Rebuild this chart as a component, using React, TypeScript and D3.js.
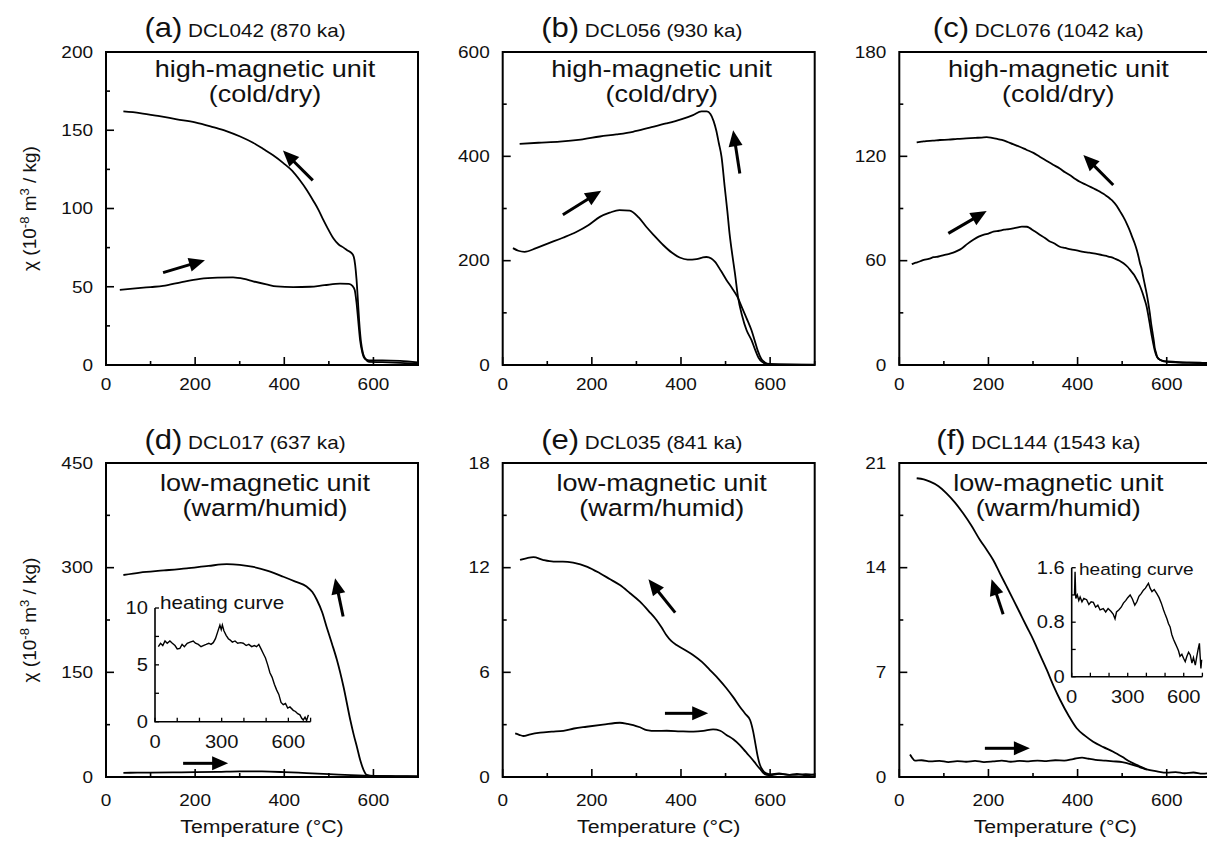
import React from "react";
import * as d3 from "d3";

// thermomagnetic curves, chi vs temperature: [T (°C), chi]
const aHeat: [number, number][] = [[31,48],[60,48.8],[100,49.8],[128,50.5],[170,53],[211,55],[250,55.8],[285,56],[310,55],[330,53.5],[360,51.5],[383,50.2],[420,49.8],[458,50],[490,51],[525,52],[545,51.8],[553,50.5],[558,48],[562,40],[566,28],[570,16],[575,8],[581,4],[590,3],[620,3],[660,2.6],[700,1.6]];
const aCool: [number, number][] = [[39,162],[76,161],[120,159],[159,157],[200,155],[240,152],[270,149.5],[301,146],[330,142],[353,138],[375,134],[398,129],[418,124],[435,118],[450,112],[465,105],[477,99],[487,93],[498,87],[510,81],[522,77],[533,75],[543,73],[551,71.5],[556,69],[559,64],[562,55],[565,42],[568,28],[572,15],[577,7],[583,3.5],[590,2],[620,1.8],[660,1.4],[700,0.8]];

const bHeat: [number, number][] = [[23,224],[35,219],[49,217],[75,224],[105,234],[135,244],[165,255],[192,268],[218,284],[240,292],[262,297],[285,296],[305,283],[322,265],[340,248],[360,230],[380,215],[397,206],[415,202],[435,203],[448,206],[457,207],[468,204],[476,198],[490,180],[502,163],[514,148],[527,130],[537,110],[547,90],[558,67],[565,48],[572,28],[580,12],[588,5],[598,2],[620,1],[700,0.5]];
const bCool: [number, number][] = [[38,424],[80,426],[128,428],[175,432],[218,438],[255,442],[292,447],[330,455],[367,463],[400,471],[427,479],[446,486],[458,486],[466,481],[473,468],[479,450],[485,425],[491,399],[498,342],[504,295],[509,252],[515,212],[521,176],[528,130],[537,95],[547,67],[558,48],[566,30],[574,14],[582,6],[590,2.5],[605,1],[700,0.3]];

const cHeat: [number, number][] = [[28,58],[34,58.6],[40,59],[48,59.8],[55,60.5],[66,61],[77,62],[88,62.4],[100,63.2],[110,63.8],[121,64.6],[130,65.6],[140,67],[152,69.5],[166,72],[178,73.8],[190,75],[200,75.6],[211,76.7],[224,77.2],[235,77.8],[246,78.1],[256,78.6],[266,79.2],[275,79.6],[286,79.5],[293,78.7],[300,77.5],[308,76.2],[316,74.8],[326,73.2],[335,71.5],[347,70],[360,68],[372,67.3],[385,66.5],[398,65.9],[413,65],[426,64.6],[440,64],[452,63.4],[465,62.7],[475,62],[485,61],[494,60],[503,58.5],[512,56.5],[520,54],[527,51.8],[533,49],[539,46],[545,42],[550,38],[555,33.5],[559,28],[563,22],[567,16],[570,12],[573,8.5],[576,6],[580,4],[585,3],[595,2.2],[620,1.8],[650,1.5],[675,1.3],[700,1.2]];
const cCool: [number, number][] = [[39,128],[50,128.4],[60,128.8],[75,129],[91,129.4],[110,129.6],[130,130],[150,130.3],[170,130.6],[185,130.8],[196,131],[208,130.6],[220,130],[230,129.4],[241,128.5],[255,127],[270,125.5],[285,123.8],[301,122],[315,119.8],[330,117.5],[345,115.2],[360,113],[372,110.8],[385,108.8],[395,107],[405,105.4],[418,103.8],[430,102.3],[440,101],[450,99.7],[458,98.5],[466,97],[473,95.6],[480,94],[488,91.5],[495,88.5],[503,85],[510,81.5],[516,78],[522,74],[528,70],[533,66],[537,62],[540,58.5],[544,55],[547,51],[551,46],[555,41],[559,35],[562,30],[565,24],[568,19],[571,14],[573,10],[576,7],[578,5],[582,3.5],[588,2.6],[600,1.8],[625,1.4],[650,1.2],[675,1.1],[700,1]];

const dHeat: [number, number][] = [[39,6],[70,6.2],[100,6.4],[150,6.6],[200,7],[250,7.4],[300,8.2],[350,8],[400,7],[450,5.6],[500,4.2],[550,2.6],[600,1.4],[650,1],[700,0.8]];
const dCool: [number, number][] = [[39,289.5],[76,293],[130,296],[181,299],[230,302.5],[271,305],[300,304],[331,301],[365,295],[398,287],[425,280],[450,273],[463,265],[473,254],[485,236],[495,215],[507,191],[518,168],[533,129],[548,82],[556,60],[563,43],[570,25],[578,10],[585,3],[600,1.5],[650,1.2],[700,1]];
// inset of (d): heating curve only
const dInsetHeat: [number, number][] = [[15,6.6],[25,6.9],[35,6.7],[45,7.1],[55,6.9],[67,7.1],[78,6.9],[90,6.7],[100,6.4],[112,6.45],[122,6.8],[132,6.6],[145,6.9],[158,7.0],[172,7.1],[182,6.9],[195,6.8],[207,6.6],[217,6.7],[230,6.8],[242,6.9],[252,6.8],[262,6.95],[272,7.3],[282,7.9],[292,8.5],[298,8.1],[303,8.5],[310,8.0],[320,7.6],[330,7.3],[337,7.2],[348,7.0],[360,7.1],[372,6.9],[385,6.95],[397,6.9],[410,6.7],[422,6.8],[435,6.6],[447,6.7],[457,6.6],[467,6.8],[477,6.4],[487,6.0],[497,5.6],[507,5.0],[517,4.3],[527,3.9],[537,3.3],[547,2.8],[557,2.4],[567,1.7],[577,1.5],[587,1.6],[597,1.2],[607,1.3],[622,1.0],[632,0.9],[642,0.7],[652,0.6],[660,0.3],[667,0.15],[675,0.4],[682,0.1],[690,0.6]];

const eHeat: [number, number][] = [[28,2.5],[37,2.42],[46,2.35],[62,2.45],[84,2.54],[110,2.6],[136,2.65],[160,2.78],[188,2.88],[225,3.0],[263,3.11],[280,3.05],[293,2.98],[308,2.85],[323,2.69],[345,2.64],[368,2.65],[398,2.62],[428,2.6],[450,2.64],[472,2.73],[488,2.65],[502,2.41],[518,2.15],[532,1.83],[545,1.45],[555,1.16],[565,0.85],[573,0.59],[580,0.38],[584,0.25],[592,0.12],[600,0.1],[620,0.18],[650,0.12],[680,0.16],[700,0.12]];
const eCool: [number, number][] = [[39,12.44],[55,12.55],[69,12.6],[90,12.45],[114,12.35],[135,12.35],[158,12.29],[190,12.05],[218,11.68],[240,11.35],[263,11.0],[285,10.55],[308,10.05],[328,9.5],[345,9.0],[357,8.55],[367,8.14],[378,7.8],[390,7.57],[408,7.3],[427,7.0],[447,6.6],[465,6.13],[485,5.6],[502,5.09],[518,4.55],[532,4.03],[545,3.6],[555,3.27],[562,2.6],[567,1.9],[572,1.2],[577,0.7],[583,0.4],[590,0.22],[600,0.15],[620,0.2],[640,0.12],[660,0.18],[680,0.1],[700,0.15]];

const fHeat: [number, number][] = [[24,1.5],[28,1.32],[35,1.09],[50,1.12],[70,1.05],[90,1.08],[110,1.0],[130,1.06],[150,1.02],[170,1.08],[190,1.0],[210,1.04],[230,1.1],[250,1.02],[270,1.08],[290,1.05],[310,1.1],[330,1.06],[350,1.12],[370,1.1],[390,1.2],[410,1.3],[425,1.22],[440,1.15],[460,1.1],[480,1.05],[500,1.0],[520,0.85],[540,0.65],[555,0.5]];
const fCool: [number, number][] = [[39,19.98],[55,19.9],[69,19.75],[88,19.45],[106,18.97],[125,18.35],[144,17.6],[162,16.8],[181,15.85],[196,15.2],[211,14.5],[226,13.6],[241,12.73],[256,11.85],[271,10.95],[286,10.05],[301,9.16],[316,8.15],[331,7.16],[346,6.1],[361,5.15],[380,4.1],[398,3.26],[417,2.75],[435,2.36],[458,2.0],[480,1.69],[500,1.35],[518,1.02],[537,0.75],[555,0.51],[578,0.38],[600,0.29],[620,0.32],[640,0.25],[660,0.3],[680,0.22],[700,0.28]];
// inset of (f): heating curve only
const fInsetHeat: [number, number][] = [[15,1.2],[18,1.54],[22,1.15],[30,1.2],[38,1.12],[45,1.17],[55,1.1],[65,1.15],[80,1.13],[92,1.06],[104,1.1],[116,1.09],[128,1.02],[140,1.05],[152,0.98],[169,1.0],[182,0.95],[195,1.0],[210,0.96],[222,0.92],[232,0.85],[240,0.95],[252,0.98],[265,1.02],[277,1.08],[290,1.12],[300,1.16],[313,1.2],[325,1.14],[338,1.05],[349,1.1],[360,1.18],[372,1.22],[384,1.27],[395,1.3],[404,1.34],[411,1.37],[420,1.3],[430,1.25],[442,1.28],[456,1.22],[468,1.16],[480,1.08],[492,0.98],[500,0.92],[510,0.85],[518,0.78],[527,0.73],[536,0.62],[545,0.55],[553,0.5],[563,0.44],[572,0.38],[580,0.3],[590,0.33],[599,0.27],[608,0.22],[617,0.3],[626,0.36],[635,0.32],[644,0.2],[652,0.28],[662,0.17],[670,0.3],[677,0.4],[684,0.49],[688,0.3],[692,0.12],[696,0.25]];

// arrows: [T tail, chi tail, T head, chi head]
const aArrows = [[464,118,397,137],[128,59,222,67]];
const bArrows = [[532,367,517,450],[135,288,221,334]];
const cArrows = [[480,103.5,413,120.8],[110,75.7,196,88.5]];
const dArrows = [[532,230,514,285],[173,19.6,274,19.6]];
const eArrows = [[387,9.42,327,11.33],[364,3.65,461,3.65]];
const fArrows = [[233,10.88,207,13.22],[192,1.92,293,1.92]];

const panels = [
  { col: 0, row: 0, letter: "(a)", sample: "DCL042 (870 ka)", unit: ["high-magnetic unit", "(cold/dry)"], yMax: 200, yMinor: 25, yMajor: 50, heat: aHeat, cool: aCool, arrows: aArrows },
  { col: 1, row: 0, letter: "(b)", sample: "DCL056 (930 ka)", unit: ["high-magnetic unit", "(cold/dry)"], yMax: 600, yMinor: 100, yMajor: 200, heat: bHeat, cool: bCool, arrows: bArrows },
  { col: 2, row: 0, letter: "(c)", sample: "DCL076 (1042 ka)", unit: ["high-magnetic unit", "(cold/dry)"], yMax: 180, yMinor: 30, yMajor: 60, heat: cHeat, cool: cCool, arrows: cArrows },
  { col: 0, row: 1, letter: "(d)", sample: "DCL017 (637 ka)", unit: ["low-magnetic unit", "(warm/humid)"], yMax: 450, yMinor: 75, yMajor: 150, heat: dHeat, cool: dCool, arrows: dArrows },
  { col: 1, row: 1, letter: "(e)", sample: "DCL035 (841 ka)", unit: ["low-magnetic unit", "(warm/humid)"], yMax: 18, yMinor: 3, yMajor: 6, heat: eHeat, cool: eCool, arrows: eArrows },
  { col: 2, row: 1, letter: "(f)", sample: "DCL144 (1543 ka)", unit: ["low-magnetic unit", "(warm/humid)"], yMax: 21, yMinor: 3.5, yMajor: 7, heat: fHeat, cool: fCool, arrows: fArrows },
];

const insets = [
  { left: 155, right: 310.6, top: 608, bottom: 721.7, yMax: 10, yMinor: 2.5, yMajor: 5, data: dInsetHeat, labelX: 160, labelY: 609, labelSize: 18 },
  { left: 1071.7, right: 1202.4, top: 567.7, bottom: 676.7, yMax: 1.6, yMinor: 0.4, yMajor: 0.8, data: fInsetHeat, labelX: 1079, labelY: 575, labelSize: 16.6 },
];

const COLS = [106, 502.7, 899.3];
const ROWS = [
  { top: 52, bottom: 365, tickDy: 25, titleY: 37, unitY: [77, 102] },
  { top: 463, bottom: 777, tickDy: 29, titleY: 449, unitY: [491, 516] },
];
const PW = 312;
const SX = 1.15; // source lettering is a little wide
const FONT = "'Liberation Sans', Arial, Helvetica, sans-serif";

const Txt = ({ x, y, size, anchor = "start", dy, children }: any) => (
  <text transform={`translate(${x},${y}) scale(${SX},1)`} fontSize={size} textAnchor={anchor} dy={dy}>
    {children}
  </text>
);

const fmt = (v: number) => String(+v.toFixed(2));
const isMajor = (v: number, step: number) => Math.abs(v / step - Math.round(v / step)) < 1e-6;

function Arrow({ x1, y1, x2, y2 }: any) {
  const ang = Math.atan2(y2 - y1, x2 - x1);
  const L = 16, w = 7;
  const c = Math.cos(ang), s = Math.sin(ang);
  const bx = x2 - L * c, by = y2 - L * s;
  const pts = [[x2, y2], [bx + w * s, by - w * c], [bx - w * s, by + w * c]];
  return (
    <g>
      <line x1={x1} y1={y1} x2={bx + 2 * c} y2={by + 2 * s} stroke="#000" strokeWidth={3} />
      <polygon points={pts.map((p) => p.join(",")).join(" ")} fill="#000" />
    </g>
  );
}

function Panel({ p }: any) {
  const left = COLS[p.col];
  const row = ROWS[p.row];
  const x = d3.scaleLinear().domain([0, 700]).range([left, left + PW]);
  const y = d3.scaleLinear().domain([0, p.yMax]).range([row.bottom, row.top]);
  const line = d3.line<[number, number]>().x((d) => x(d[0])).y((d) => y(d[1])).curve(d3.curveMonotoneX);
  const yTicks = d3.range(0, p.yMax + p.yMinor / 2, p.yMinor);
  const xTicks = d3.range(0, 701, 100);
  const midY = (row.top + row.bottom) / 2;
  return (
    <g>
      <rect x={left} y={row.top} width={PW} height={row.bottom - row.top} fill="none" stroke="#000" strokeWidth={2} />
      {yTicks.map((v: number) => (
        <line key={"y" + v} x1={left} x2={left + (isMajor(v, p.yMajor) ? 8 : 4)} y1={y(v)} y2={y(v)} stroke="#000" strokeWidth={1.6} />
      ))}
      {xTicks.map((v: number) => (
        <line key={"x" + v} x1={x(v)} x2={x(v)} y1={row.bottom} y2={row.bottom - (v % 200 === 0 ? 8 : 4)} stroke="#000" strokeWidth={1.6} />
      ))}
      {yTicks.filter((v: number) => isMajor(v, p.yMajor)).map((v: number) => (
        <Txt key={"yl" + v} x={left - 13} y={y(v)} dy="0.35em" size={16.5} anchor="end">{fmt(v)}</Txt>
      ))}
      {xTicks.filter((v: number) => v % 200 === 0).map((v: number) => (
        <Txt key={"xl" + v} x={x(v)} y={row.bottom + row.tickDy} size={16.5} anchor="middle">{fmt(v)}</Txt>
      ))}
      <path d={line(p.heat) || ""} fill="none" stroke="#000" strokeWidth={1.8} />
      <path d={line(p.cool) || ""} fill="none" stroke="#000" strokeWidth={1.8} />
      {p.arrows.map((a: number[], i: number) => (
        <Arrow key={i} x1={x(a[0])} y1={y(a[1])} x2={x(a[2])} y2={y(a[3])} />
      ))}
      <text transform={`translate(${left + 139},${row.titleY}) scale(${SX},1)`} textAnchor="middle">
        <tspan fontSize={27}>{p.letter}</tspan>
        <tspan fontSize={18}>{" " + p.sample}</tspan>
      </text>
      <Txt x={left + 159} y={row.unitY[0]} size={23.5} anchor="middle">{p.unit[0]}</Txt>
      <Txt x={left + 159} y={row.unitY[1]} size={23.5} anchor="middle">{p.unit[1]}</Txt>
      {p.col === 0 && (
        <text transform={`translate(36,${midY}) rotate(-90)`} fontSize={19} textAnchor="middle">
          χ (10<tspan fontSize={13} dy={-7}>-8</tspan>
          <tspan dy={7}> m</tspan>
          <tspan fontSize={13} dy={-7}>3</tspan>
          <tspan dy={7}> / kg)</tspan>
        </text>
      )}
      {p.row === 1 && (
        <Txt x={left + 156} y={833} size={18.5} anchor="middle">Temperature (°C)</Txt>
      )}
    </g>
  );
}

function Inset({ q }: any) {
  const x = d3.scaleLinear().domain([0, 700]).range([q.left, q.right]);
  const y = d3.scaleLinear().domain([0, q.yMax]).range([q.bottom, q.top]);
  const line = d3.line<[number, number]>().x((d) => x(d[0])).y((d) => y(d[1]));
  const yTicks = d3.range(0, q.yMax + q.yMinor / 2, q.yMinor);
  const xTicks = d3.range(0, 701, 100);
  return (
    <g>
      <path d={`M${q.left},${q.top}V${q.bottom}H${q.right}`} fill="none" stroke="#000" strokeWidth={1.6} />
      {yTicks.map((v: number) => (
        <line key={"y" + v} x1={q.left} x2={q.left + 4} y1={y(v)} y2={y(v)} stroke="#000" strokeWidth={1.3} />
      ))}
      {xTicks.map((v: number) => (
        <line key={"x" + v} x1={x(v)} x2={x(v)} y1={q.bottom} y2={q.bottom - 4} stroke="#000" strokeWidth={1.3} />
      ))}
      {yTicks.filter((v: number) => isMajor(v, q.yMajor)).map((v: number) => (
        <Txt key={"yl" + v} x={q.left - 7} y={y(v)} dy="0.35em" size={17.5} anchor="end">{fmt(v)}</Txt>
      ))}
      {xTicks.filter((v: number) => v % 300 === 0).map((v: number) => (
        <Txt key={"xl" + v} x={x(v)} y={q.bottom + 26} size={17.5} anchor="middle">{fmt(v)}</Txt>
      ))}
      <path d={line(q.data) || ""} fill="none" stroke="#000" strokeWidth={1.4} />
      <Txt x={q.labelX} y={q.labelY} size={q.labelSize}>heating curve</Txt>
    </g>
  );
}

export default function App() {
  return (
    <svg
      width={1207}
      height={841}
      style={{ position: "absolute", left: 0, top: 0, background: "#fff" }}
      fontFamily={FONT}
      fill="#111"
    >
      <rect width={1207} height={841} fill="#fff" />
      {panels.map((p) => (
        <Panel key={p.letter} p={p} />
      ))}
      {insets.map((q, i) => (
        <Inset key={i} q={q} />
      ))}
    </svg>
  );
}
